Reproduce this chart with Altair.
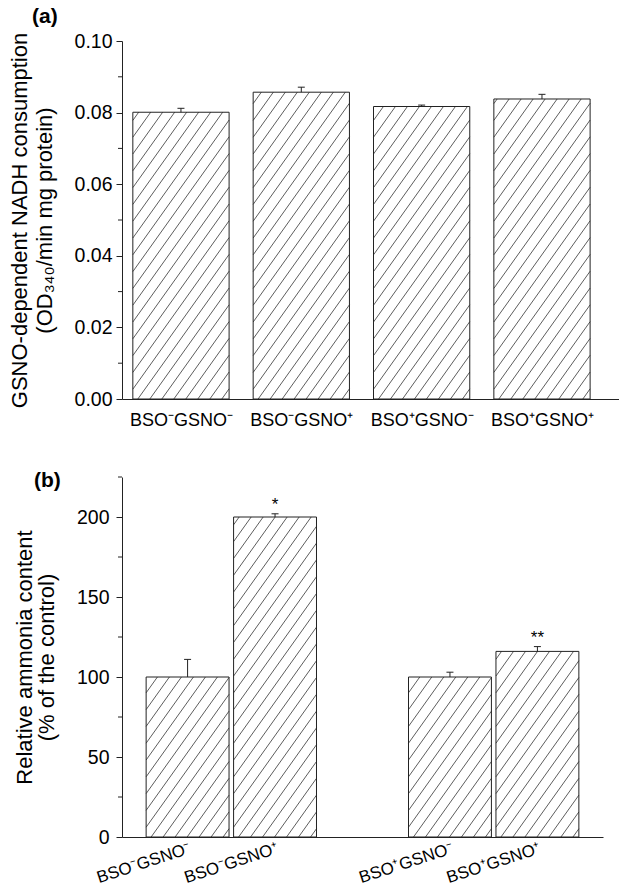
import json
import math
import altair as alt
import pandas as pd

# ---------------- data ----------------
categories = ["BSO⁻GSNO⁻", "BSO⁻GSNO⁺", "BSO⁺GSNO⁻", "BSO⁺GSNO⁺"]

a_values = [0.0801, 0.0857, 0.0817, 0.0838]
a_err_top = [0.0812, 0.0871, 0.0821, 0.0851]

b_values = [100, 200, 100, 116]
b_err_top = [111, 202, 103, 119]
b_sig = ["", "*", "", "**"]

a_yticks = [0.0, 0.02, 0.04, 0.06, 0.08, 0.10]
a_minor = [0.01, 0.03, 0.05, 0.07, 0.09]
b_yticks = [0, 50, 100, 150, 200]
b_minor = [25, 75, 125, 175, 225]

FONT = "Liberation Sans"
INK = "#222222"


def panel(values, errs, sig, slots, W, H, xdom, ydom, yticks, minor, yfmt,
          ytitle, title, hw, xaxis_kw, title_kw, ytitle_kw):
    df = pd.DataFrame({"cat": categories, "value": values, "err": errs,
                       "sig": sig, "pos": slots})
    kx = W / (xdom[1] - xdom[0])
    ky = H / (ydom[1] - ydom[0])
    xs = alt.Scale(domain=xdom, nice=False, zero=False)
    ys = alt.Scale(domain=ydom, nice=False, zero=False)

    label_arr = [""] * (max(slots) + 1)
    for s_, c_ in zip(slots, categories):
        label_arr[s_] = c_
    xaxis = alt.Axis(values=slots,
                     labelExpr=json.dumps(label_arr, ensure_ascii=False) + "[datum.value]",
                     ticks=False, grid=False, title=None, labelFont=FONT,
                     labelColor="black", domainColor=INK, domainWidth=1,
                     labelOverlap=False, labelFlush=False, **xaxis_kw)
    yaxis = alt.Axis(values=yticks, format=yfmt, tickSize=6, tickColor=INK,
                     domainColor=INK, grid=False, title=ytitle, titleFont=FONT,
                     titleFontWeight="normal", titleColor="black",
                     labelFont=FONT, labelColor="black", labelOverlap=False,
                     labelFlush=False, **ytitle_kw)

    base = alt.Chart(df).transform_calculate(
        x0=f"datum.pos - {hw}", x1=f"datum.pos + {hw}")

    bars = base.mark_rect(fill="white").encode(
        x=alt.X("x0:Q", scale=xs, axis=xaxis), x2="x1:Q",
        y=alt.Y("value:Q", scale=ys, axis=yaxis), y2=alt.datum(0))

    # diagonal hatching computed from each bar's size
    d = 12.0
    s = 1.4
    phase = 5.0
    wpx = 2 * hw * kx
    extra = math.ceil(wpx / d) + 1
    hatch = base.transform_calculate(
        hpx=f"datum.value*{ky}",
        m=f"ceil(datum.hpx/({s}*{d}))",
        k=f"sequence(0, datum.m + {extra})",
    ).transform_flatten(["k"]).transform_calculate(
        c=f"{phase} + (datum.k - datum.m)*{d}",
        lx="max(datum.c, 0)",
        ly=f"max(0, -{s}*datum.c)",
        ux=f"min(datum.c + datum.hpx/{s}, {wpx})",
        uy=f"min(datum.hpx, {s}*({wpx} - datum.c))",
    ).transform_filter(
        f"datum.ly < datum.hpx - 0.5 && datum.lx < {wpx} - 0.5"
    ).transform_calculate(
        hx1=f"datum.pos - {hw} + datum.lx/{kx}",
        hy1=f"datum.ly/{ky}",
        hx2=f"datum.pos - {hw} + datum.ux/{kx}",
        hy2=f"datum.uy/{ky}",
    ).mark_rule(color="#333333", strokeWidth=0.8).encode(
        x=alt.X("hx1:Q", scale=xs), x2="hx2:Q",
        y=alt.Y("hy1:Q", scale=ys), y2="hy2:Q")

    outline = base.mark_rect(fillOpacity=0, stroke=INK, strokeWidth=1).encode(
        x=alt.X("x0:Q", scale=xs), x2="x1:Q",
        y=alt.Y("value:Q", scale=ys), y2=alt.datum(0))

    err_line = base.mark_rule(color=INK, strokeWidth=1).encode(
        x=alt.X("pos:Q", scale=xs),
        y=alt.Y("value:Q", scale=ys), y2="err:Q")

    capw = 3.5 / kx
    cap = base.transform_calculate(
        c0=f"datum.pos - {capw}", c1=f"datum.pos + {capw}"
    ).mark_rule(color=INK, strokeWidth=1).encode(
        x=alt.X("c0:Q", scale=xs), x2="c1:Q",
        y=alt.Y("err:Q", scale=ys))

    minor_ticks = alt.Chart(pd.DataFrame({"m": minor})).mark_rule(
        color=INK, strokeWidth=1).encode(
        x=alt.value(-4), x2=alt.value(0),
        y=alt.Y("m:Q", scale=ys))

    layers = [bars, hatch, outline, err_line, cap, minor_ticks]
    if any(sig):
        stars = base.transform_filter("datum.sig != ''").mark_text(
            font=FONT, fontSize=17, baseline="alphabetic", dy=-4,
            color="black").encode(
            x=alt.X("pos:Q", scale=xs),
            y=alt.Y("err:Q", scale=ys), text="sig:N")
        layers.append(stars)

    return alt.layer(*layers).properties(
        width=W, height=H,
        title=alt.TitleParams(title, anchor="start", frame="group", orient="top",
                              font=FONT, fontSize=21, fontWeight="bold",
                              color="black", baseline="middle", **title_kw))


slots_a = list(range(len(categories)))
slots_b = [i + (1 if i >= 2 else 0) for i in range(len(categories))]

chart_a = panel(a_values, a_err_top, ["", "", "", ""], slots_a, 497, 358,
                [-0.49, 3.64], [0, 0.10], a_yticks, a_minor, ".2f",
                ["GSNO-dependent NADH consumption", "(OD₃₄₀/min mg protein)"],
                "(a)", 0.4,
                dict(labelFontSize=18, labelPadding=12),
                dict(offset=0, dy=7, dx=-90),
                dict(labelFontSize=19.5, labelPadding=4, titleFontSize=22,
                     titleLineHeight=25, titlePadding=18))

chart_b = panel(b_values, b_err_top, b_sig, slots_b, 481, 360,
                [-0.75, 4.75], [0, 225], b_yticks, b_minor, "d",
                ["Relative ammonia content", "(% of the control)"],
                "(b)", 0.474,
                dict(labelFontSize=17, labelPadding=3, labelAngle=342,
                     labelAlign="right", labelBaseline="top"),
                dict(offset=0, dx=-88, dy=25),
                dict(labelFontSize=19.5, labelPadding=7, titleFontSize=22,
                     titleLineHeight=22, titlePadding=18))

chart = alt.vconcat(chart_a, chart_b, spacing=40).properties(
    padding={"left": 8, "top": 6, "right": 0, "bottom": 0}
).configure_view(stroke=None)

chart.save("out.html", embed_options={"renderer": "svg", "actions": False})
